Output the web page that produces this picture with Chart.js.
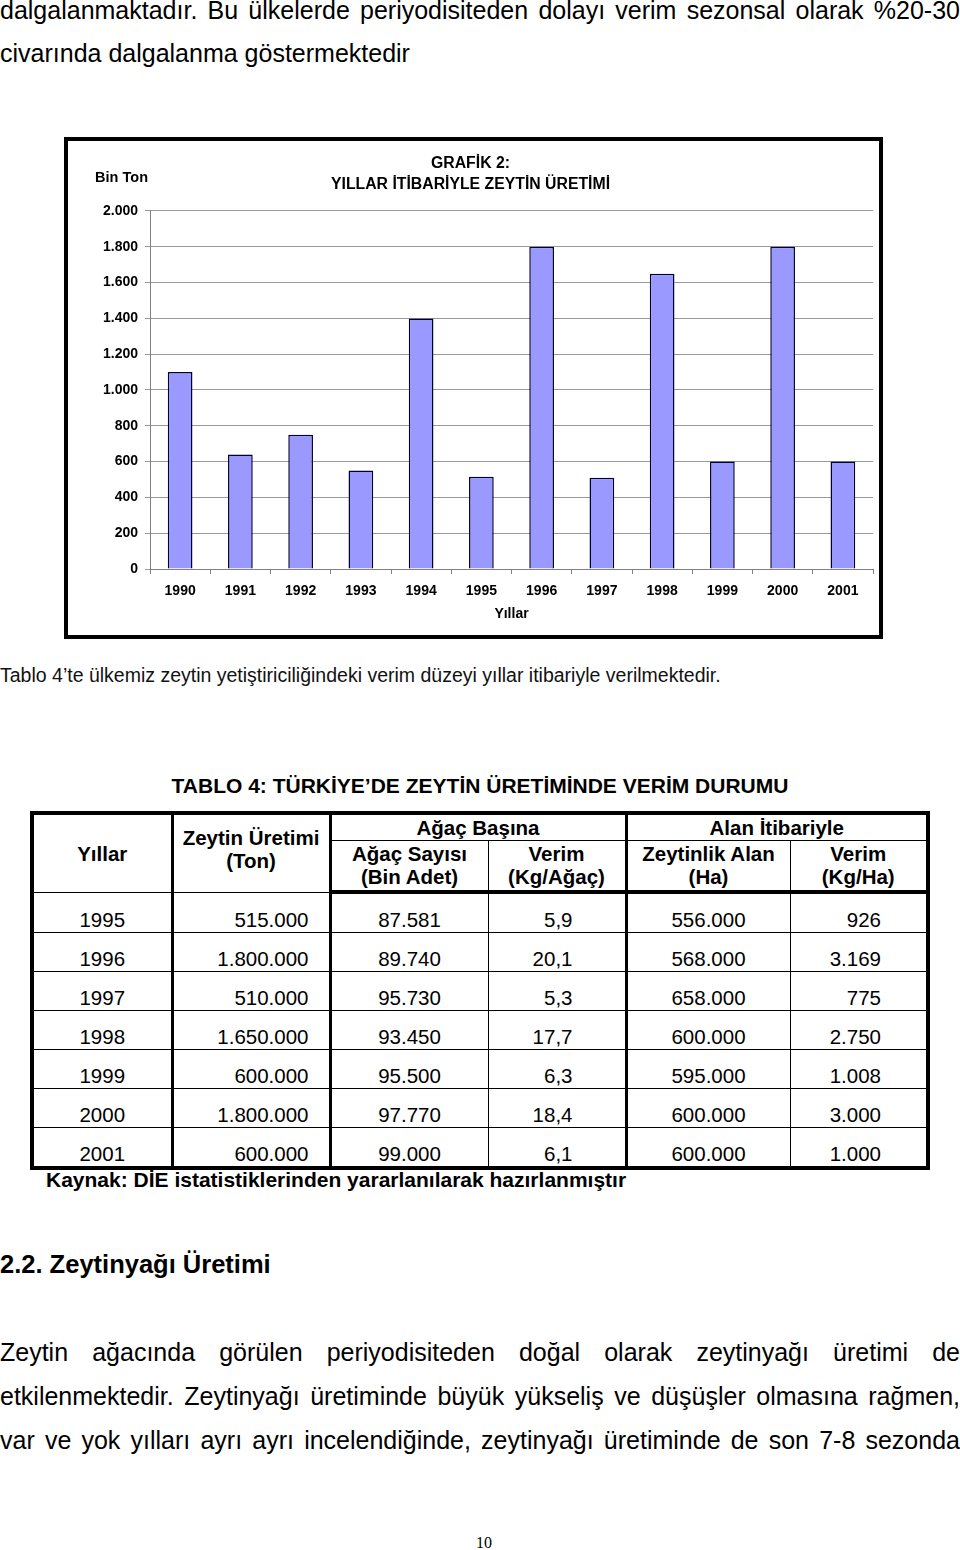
<!DOCTYPE html>
<html lang="tr">
<head>
<meta charset="UTF-8">
<title>Grafik 2 - Yıllar İtibariyle Zeytin Üretimi</title>
<script src="https://cdn.jsdelivr.net/npm/chart.js"></script>
<style>
  html, body { margin: 0; padding: 0; background: #fff; }
  body { width: 960px; height: 1550px; position: relative; overflow: hidden;
         font-family: "Liberation Sans", Arial, sans-serif; color: #000; }
  .abs { position: absolute; left: 0; }
  .para { font-size: 25px; line-height: 38px; width: 960px; }
  .just { text-align: justify; text-align-last: justify; }
  .low { font-size: 25px; line-height: 44px; width: 960px; }

  #frame { position: absolute; left: 64px; top: 137px; width: 819px; height: 502px;
           border: 4px solid #000; box-sizing: border-box; background: #fff; }
  #chartBox { position: absolute; left: 0; top: 0; width: 811px; height: 494px; }

  #tblTitle { top: 771px; width: 960px; text-align: center; font-weight: bold;
              font-size: 21px; line-height: 30px; }
  #tbl { position: absolute; left: 30px; top: 811px; width: 900px;
         border-collapse: collapse; table-layout: fixed; border: 4px solid #000;
         font-size: 20.5px; }
  #tbl td, #tbl th { border: 1px solid #000; padding: 0; white-space: nowrap; }
  #tbl th { font-weight: bold; line-height: 23px; vertical-align: middle; text-align: center; }
  #tbl tr.hd2 th { border-bottom: 4px solid #000; }
  #tbl td { line-height: 20px; vertical-align: bottom; padding-bottom: 2px; height: 36px; }
  #tbl .thick { border-left: 3px solid #000; }
  #tbl .c { text-align: center; }
  #tbl .r2 { text-align: right; padding-right: 20px; }
  #tbl .r4 { text-align: right; padding-right: 52px; }
  #tbl .r6 { text-align: right; padding-right: 45px; }
</style>
</head>
<body>

<div class="abs para just" style="top:-9px;">dalgalanmaktadır. Bu ülkelerde periyodisiteden dolayı verim sezonsal olarak %20-30</div>
<div class="abs para" style="top:34px;">civarında dalgalanma göstermektedir</div>

<div id="frame">
  <div id="chartBox"><canvas id="oliveChart"></canvas></div>
</div>

<div class="abs" style="top:660px; font-size:19.5px; line-height:30px; color:#111;">Tablo 4’te ülkemiz zeytin yetiştiriciliğindeki verim düzeyi yıllar itibariyle verilmektedir.</div>

<div id="tblTitle" class="abs">TABLO 4: TÜRKİYE’DE ZEYTİN ÜRETİMİNDE VERİM DURUMU</div>

<table id="tbl">
  <colgroup>
    <col style="width:140px"><col style="width:158px"><col style="width:158px">
    <col style="width:138px"><col style="width:164px"><col style="width:138px">
  </colgroup>
  <thead>
    <tr class="hd1" style="height:27px">
      <th rowspan="2">Yıllar</th>
      <th rowspan="2" class="thick" style="padding-bottom:8px">Zeytin Üretimi<br>(Ton)</th>
      <th colspan="2" class="thick">Ağaç Başına</th>
      <th colspan="2" class="thick">Alan İtibariyle</th>
    </tr>
    <tr class="hd2" style="height:52px">
      <th class="thick">Ağaç Sayısı<br>(Bin Adet)</th>
      <th>Verim<br>(Kg/Ağaç)</th>
      <th class="thick">Zeytinlik Alan<br>(Ha)</th>
      <th>Verim<br>(Kg/Ha)</th>
    </tr>
  </thead>
  <tbody id="tblBody"></tbody>
</table>

<div class="abs" style="left:46px; top:1165px; font-weight:bold; font-size:21px; line-height:30px;">Kaynak: DİE istatistiklerinden yararlanılarak hazırlanmıştır</div>

<div class="abs" style="top:1246px; font-weight:bold; font-size:25.5px; line-height:36px;">2.2. Zeytinyağı Üretimi</div>

<div class="abs low just" style="top:1330px;">Zeytin ağacında görülen periyodisiteden doğal olarak zeytinyağı üretimi de</div>
<div class="abs low just" style="top:1374px;">etkilenmektedir. Zeytinyağı üretiminde büyük yükseliş ve düşüşler olmasına rağmen,</div>
<div class="abs low just" style="top:1418px;">var ve yok yılları ayrı ayrı incelendiğinde, zeytinyağı üretiminde de son 7-8 sezonda</div>

<div class="abs" style="top:1533px; width:968px; text-align:center; font-family:'Liberation Serif', 'Times New Roman', serif; font-size:16px; line-height:20px;">10</div>

<script>
  // grafik verileri (bin ton)
  const years = ['1990', '1991', '1992', '1993', '1994', '1995', '1996', '1997', '1998', '1999', '2000', '2001'];
  const production = [1100, 640, 750, 550, 1400, 515, 1800, 510, 1650, 600, 1800, 600];
  const titleLines = ['GRAFİK 2:', 'YILLAR İTİBARİYLE ZEYTİN ÜRETİMİ'];

  // tablo 4 verileri
  const tblYears = ['1995', '1996', '1997', '1998', '1999', '2000', '2001'];
  const tblProduction = ['515.000', '1.800.000', '510.000', '1.650.000', '600.000', '1.800.000', '600.000'];
  const tblTrees = ['87.581', '89.740', '95.730', '93.450', '95.500', '97.770', '99.000'];
  const tblYieldTree = ['5,9', '20,1', '5,3', '17,7', '6,3', '18,4', '6,1'];
  const tblArea = ['556.000', '568.000', '658.000', '600.000', '595.000', '600.000', '600.000'];
  const tblYieldArea = ['926', '3.169', '775', '2.750', '1.008', '3.000', '1.000'];

  document.getElementById('tblBody').innerHTML = tblYears.map((y, i) => `
    <tr>
      <td class="c">${y}</td>
      <td class="r2 thick">${tblProduction[i]}</td>
      <td class="c thick">${tblTrees[i]}</td>
      <td class="r4">${tblYieldTree[i]}</td>
      <td class="c thick">${tblArea[i]}</td>
      <td class="r6">${tblYieldArea[i]}</td>
    </tr>`).join('');

  const dotted = v => String(v).replace(/\B(?=(\d{3})+(?!\d))/g, '.');
  const tickFont = { family: '"Liberation Sans", Arial, sans-serif', size: 14, weight: 'bold' };

  // sol üstteki birim etiketi
  const unitLabel = {
    id: 'unitLabel',
    afterDraw(chart) {
      const ctx = chart.ctx;
      ctx.save();
      ctx.font = 'bold 14.5px "Liberation Sans", Arial, sans-serif';
      ctx.fillStyle = '#000';
      ctx.textAlign = 'right';
      ctx.textBaseline = 'middle';
      ctx.fillText('Bin Ton', chart.chartArea.left - 2, chart.chartArea.top - 33);
      ctx.restore();
    }
  };

  new Chart(document.getElementById('oliveChart'), {
    type: 'bar',
    data: {
      labels: years,
      datasets: [{
        data: production,
        backgroundColor: '#9999FF',
        borderColor: '#000033',
        borderWidth: 1.5,
        barPercentage: 0.41,
        categoryPercentage: 1.0
      }]
    },
    options: {
      responsive: true,
      maintainAspectRatio: false,
      animation: false,
      devicePixelRatio: 1,
      layout: { padding: { left: 0, right: 6, top: 0, bottom: 12 } },
      plugins: {
        legend: { display: false },
        tooltip: { enabled: false },
        title: {
          display: true,
          text: titleLines,
          color: '#000',
          font: { family: '"Liberation Sans", Arial, sans-serif', size: 15.8, weight: 'bold', lineHeight: 1.36 },
          padding: { top: 11.5, bottom: 15.5 }
        }
      },
      scales: {
        x: {
          grid: { offset: true, drawOnChartArea: false, drawTicks: true, tickLength: 5, color: '#808080' },
          border: { color: '#808080' },
          ticks: { color: '#000', font: tickFont, padding: 9, maxRotation: 0, autoSkip: false },
          title: { display: true, text: 'Yıllar', color: '#000', font: tickFont, padding: 0 },
          afterFit: s => { s.height = 54; }
        },
        y: {
          min: 0,
          max: 2000,
          grid: { color: '#999999', tickLength: 5 },
          border: { color: '#808080' },
          ticks: { stepSize: 200, color: '#000', font: tickFont, padding: 7, callback: v => dotted(v) },
          afterFit: s => { s.width = 82; }
        }
      }
    },
    plugins: [unitLabel]
  });
</script>
</body>
</html>
